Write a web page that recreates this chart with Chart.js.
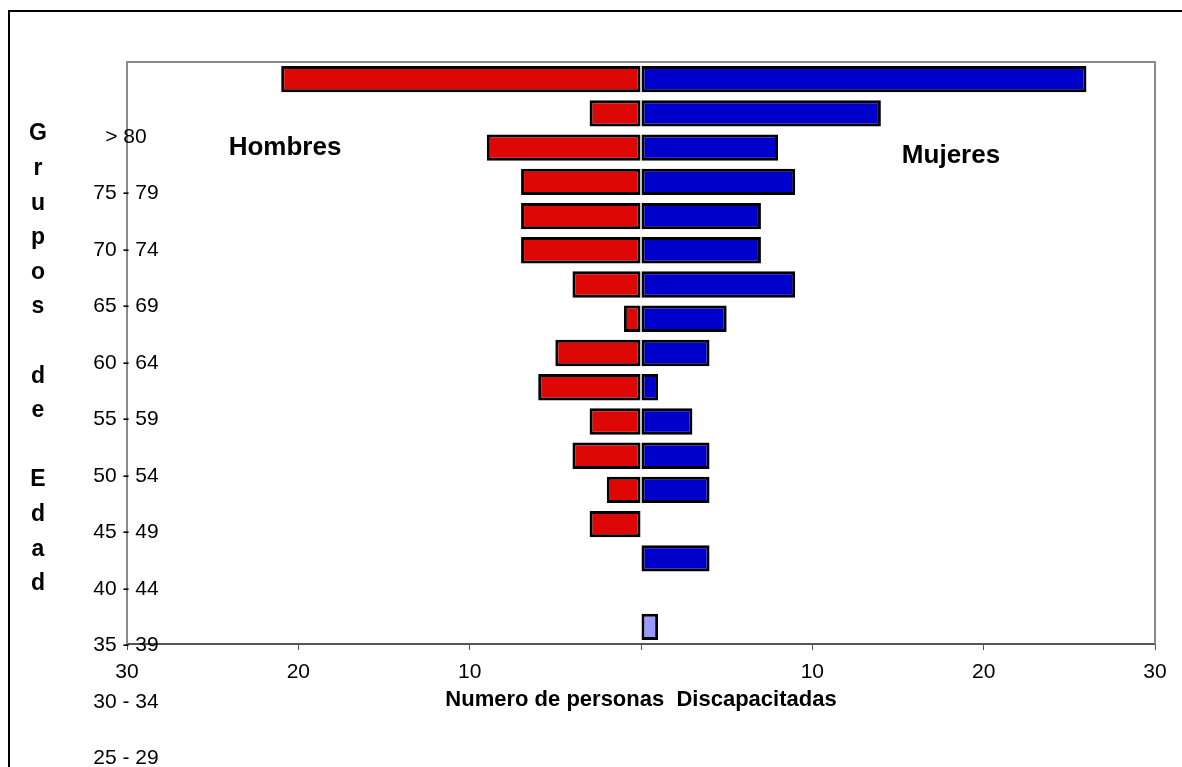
<!DOCTYPE html>
<html>
<head>
<meta charset="UTF-8">
<title>Discapacitados por grupos de edad</title>
<style>
html, body { margin: 0; padding: 0; background: #fff; overflow: hidden; }
#marco { position: absolute; left: 8px; top: 10px; width: 1400px; height: 1000px; border: 2px solid #000; }
#grafico { position: absolute; left: 0; top: 0; }
</style>
</head>
<body>
<div id="marco"></div>
<canvas id="grafico" width="1182" height="767"></canvas>

<script src="https://cdn.jsdelivr.net/npm/chart.js"></script>
<script>
// grupos de edad, de mayor a menor
const grupos = ['> 80', '75 - 79', '70 - 74', '65 - 69', '60 - 64', '55 - 59', '50 - 54', '45 - 49',
  '40 - 44', '35 - 39', '30 - 34', '25 - 29', '20 - 24', '15 - 19', '10 - 14', '5 - 9', '0 - 4'];
const hombres = [21, 3, 9, 7, 7, 7, 4, 1, 5, 6, 3, 4, 2, 3, null, null, null];
const mujeres = [26, 14, 8, 9, 7, 7, 9, 5, 4, 1, 3, 4, 4, null, 4, null, 1];
// etiquetas que muestra el eje vertical
const etiquetasEdad = ['> 80', '75 - 79', '70 - 74', '65 - 69', '60 - 64', '55 - 59',
  '50 - 54', '45 - 49', '40 - 44', '35 - 39', '30 - 34', '25 - 29'];
const ticksX = [-30, -20, -10, 0, 10, 20, 30];
const tituloY = 'Grupos de Edad';
const tituloX = 'Numero de personas  Discapacitadas';

const FUENTE = '"Liberation Sans", Arial, sans-serif';
const ROJO = '#dd0806';
const AZUL = '#0000cc';
const AZUL_CLARO = '#9999ff';

const coloresMujeres = mujeres.map((v, i) => i === mujeres.length - 1 ? AZUL_CLARO : AZUL);

// marco gris del area de trazado
const marcoPlot = {
  id: 'marcoPlot',
  beforeDatasetsDraw(chart) {
    const {ctx, chartArea: a} = chart;
    ctx.save();
    ctx.strokeStyle = '#8a8a8a';
    ctx.lineWidth = 2;
    ctx.beginPath();
    ctx.moveTo(a.left, a.bottom);
    ctx.lineTo(a.left, a.top);
    ctx.lineTo(a.right, a.top);
    ctx.lineTo(a.right, a.bottom);
    ctx.stroke();
    ctx.restore();
  }
};

// textos sueltos: etiquetas de edad, titulo vertical, Hombres / Mujeres
const textos = {
  id: 'textos',
  afterDraw(chart) {
    const {ctx, chartArea: a} = chart;
    ctx.save();
    ctx.fillStyle = '#000';
    ctx.textBaseline = 'middle';

    ctx.font = '21px ' + FUENTE;
    ctx.textAlign = 'center';
    etiquetasEdad.forEach((t, i) => {
      ctx.fillText(t, a.left - 1, a.top + 75 + i * 56.5);
    });

    ctx.font = 'bold 23px ' + FUENTE;
    tituloY.split('').forEach((c, i) => {
      ctx.fillText(c, 38, a.top + 72 + i * 34.6);
    });

    ctx.font = 'bold 26px ' + FUENTE;
    ctx.fillText('Hombres', 285, 148);
    ctx.fillText('Mujeres', 951, 156);
    ctx.restore();
  }
};

new Chart(document.getElementById('grafico'), {
  type: 'bar',
  data: {
    labels: grupos,
    datasets: [
      {
        label: 'Hombres',
        data: hombres.map(v => v === null ? null : -v),
        backgroundColor: ROJO,
        borderColor: '#000',
        borderWidth: 3,
        borderSkipped: false
      },
      {
        label: 'Mujeres',
        data: mujeres,
        backgroundColor: coloresMujeres,
        borderColor: '#000',
        borderWidth: 3,
        borderSkipped: false
      }
    ]
  },
  options: {
    indexAxis: 'y',
    responsive: false,
    animation: false,
    datasets: { bar: { categoryPercentage: 1, barPercentage: 0.77 } },
    layout: { padding: { left: 127, top: 62, right: 27, bottom: 0 } },
    plugins: { legend: { display: false }, tooltip: { enabled: false } },
    scales: {
      x: {
        stacked: true,
        min: -30,
        max: 30,
        afterBuildTicks(scale) {
          scale.ticks = ticksX.map(v => ({ value: v }));
        },
        afterFit(scale) {
          scale.height = 123;
        },
        grid: { drawOnChartArea: false, color: '#555', tickLength: 6, lineWidth: 1 },
        border: { display: true, color: '#555', width: 2 },
        ticks: {
          color: '#000',
          padding: 10,
          maxRotation: 0,
          font: { family: FUENTE, size: 21 },
          callback: v => v === 0 ? '' : Math.abs(v)
        },
        title: {
          display: true,
          text: tituloX,
          color: '#000',
          font: { family: FUENTE, size: 22, weight: 'bold' },
          padding: { top: 4, bottom: 54 }
        }
      },
      y: {
        stacked: true,
        display: false
      }
    }
  },
  plugins: [marcoPlot, textos]
});
</script>
</body>
</html>
